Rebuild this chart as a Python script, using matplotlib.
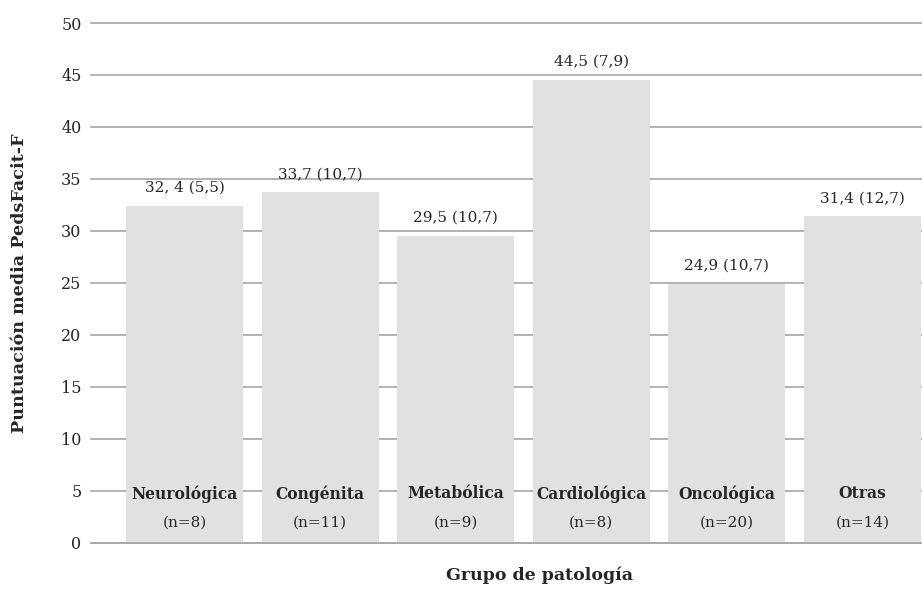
import numpy as np
import matplotlib.pyplot as plt

# Mean PedsFacit-F score by pathology group
grupos = ['Neurológica', 'Congénita', 'Metabólica', 'Cardiológica', 'Oncológica', 'Otras']
n_pacientes = [8, 11, 9, 8, 20, 14]
medias = [32.4, 33.7, 29.5, 44.5, 24.9, 31.4]
etiquetas = ['32, 4 (5,5)', '33,7 (10,7)', '29,5 (10,7)', '44,5 (7,9)', '24,9 (10,7)', '31,4 (12,7)']

plt.rcParams['font.family'] = ['DejaVu Serif']
texto = '#262626'

fig = plt.figure(figsize=(9.22, 5.90), dpi=100)
ax = fig.add_axes([0.099, 0.08, 0.901, 0.881])
ax.set_axisbelow(True)

x = np.arange(len(grupos))
ax.bar(x, medias, width=0.865, color='#e1e1e1', zorder=2)

for xi, m, lab in zip(x, medias, etiquetas):
    ax.annotate(lab, (xi, m), xytext=(0, 8), textcoords='offset points',
                ha='center', va='bottom', fontsize=11, color=texto)

for xi, g, n in zip(x, grupos, n_pacientes):
    ax.text(xi, 4.7, g, ha='center', va='center', fontsize=11.2,
            fontweight='bold', color=texto, zorder=3)
    ax.text(xi, 1.9, f'(n={n})', ha='center', va='center', fontsize=11,
            color=texto, zorder=3)

ax.set_ylim(0, 50)
ax.set_yticks(np.arange(0, 51, 5))
ax.set_xlim(-0.69, 5.44)
ax.set_xticks([])
ax.grid(axis='y', color='#a6a6a6', linewidth=1.2)
for gl in ax.get_ygridlines():
    gl.set_clip_on(False)
ax.tick_params(axis='y', length=0, pad=7, labelsize=11.5, labelcolor=texto)
for s in ['top', 'right', 'left']:
    ax.spines[s].set_visible(False)
ax.spines['bottom'].set_color('#a6a6a6')
ax.spines['bottom'].set_linewidth(1.2)

ax.set_ylabel('Puntuación media PedsFacit-F', fontsize=12.6, fontweight='bold',
              color=texto)
ax.yaxis.set_label_coords(-0.076, 0.5)
ax.set_xlabel('Grupo de patología', fontsize=12.5, fontweight='bold', color=texto)
ax.xaxis.set_label_coords(0.54, -0.045)

fig.savefig('out.png', dpi=100)
